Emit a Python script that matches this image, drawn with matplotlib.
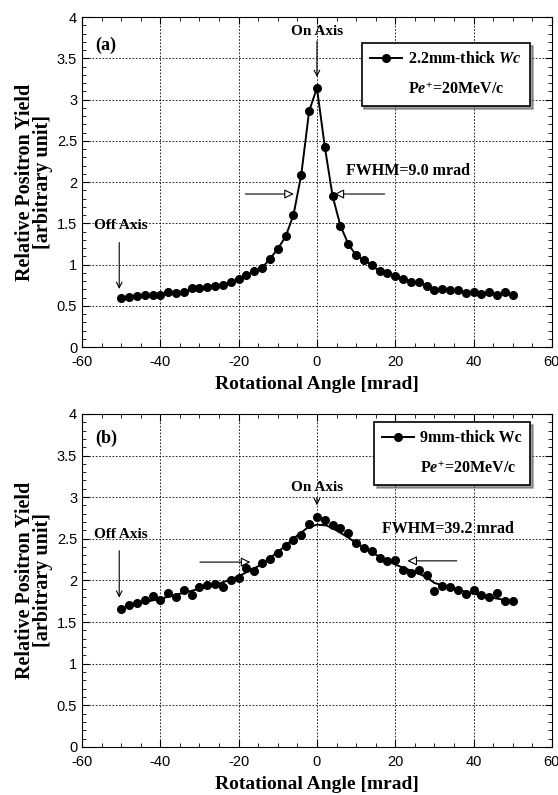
import matplotlib
matplotlib.use("Agg")
import matplotlib.pyplot as plt
from matplotlib.lines import Line2D
from matplotlib.ticker import MultipleLocator

# rotational angle (mrad), same for both panels
angle = [-50, -48, -46, -44, -42, -40, -38, -36, -34, -32, -30, -28, -26,
         -24, -22, -20, -18, -16, -14, -12, -10, -8, -6, -4, -2, 0, 2, 4,
         6, 8, 10, 12, 14, 16, 18, 20, 22, 24, 26, 28, 30, 32, 34, 36, 38,
         40, 42, 44, 46, 48, 50]

# (a) 2.2mm-thick Wc
yield_a = [0.60, 0.61, 0.62, 0.63, 0.63, 0.63, 0.67, 0.65, 0.665, 0.71,
           0.72, 0.73, 0.745, 0.75, 0.79, 0.82, 0.87, 0.92, 0.96, 1.07,
           1.19, 1.34, 1.60, 2.09, 2.86, 3.14, 2.43, 1.83, 1.47, 1.25,
           1.11, 1.06, 0.99, 0.92, 0.90, 0.855, 0.83, 0.79, 0.785, 0.74,
           0.69, 0.70, 0.69, 0.69, 0.65, 0.665, 0.64, 0.67, 0.63, 0.665,
           0.63]

# (b) 9mm-thick Wc
yield_b = [1.66, 1.71, 1.73, 1.77, 1.81, 1.77, 1.85, 1.80, 1.88, 1.83,
           1.92, 1.94, 1.96, 1.92, 2.00, 2.035, 2.15, 2.11, 2.21, 2.26,
           2.33, 2.41, 2.49, 2.54, 2.68, 2.76, 2.72, 2.66, 2.625, 2.57,
           2.45, 2.39, 2.35, 2.27, 2.23, 2.24, 2.13, 2.09, 2.12, 2.06,
           1.87, 1.93, 1.92, 1.89, 1.84, 1.88, 1.82, 1.80, 1.855, 1.75,
           1.75]

# smooth fit drawn through (b)
fit_angle_b = [-50, -45, -40, -35, -30, -25, -20, -15, -10, -7.5, -5, -2.5,
               0, 2.5, 5, 7.5, 10, 15, 20, 25, 28, 30, 35, 40, 45, 50]
fit_b = [1.67, 1.73, 1.78, 1.84, 1.90, 1.96, 2.05, 2.17, 2.34, 2.44, 2.54,
         2.63, 2.67, 2.66, 2.60, 2.53, 2.45, 2.31, 2.19, 2.10, 2.04, 1.97,
         1.90, 1.84, 1.79, 1.75]

x_ticks = [-60, -40, -20, 0, 20, 40, 60]
y_ticks = [0, 0.5, 1, 1.5, 2, 2.5, 3, 3.5, 4]
y_tick_labels = ['0', '0.5', '1', '1.5', '2', '2.5', '3', '3.5', '4']

plt.rcParams['axes.unicode_minus'] = False
plt.rcParams['mathtext.fontset'] = 'custom'
plt.rcParams['mathtext.rm'] = 'Liberation Serif:bold'
plt.rcParams['mathtext.it'] = 'Liberation Serif:italic:bold'
plt.rcParams['mathtext.bf'] = 'Liberation Serif:bold'

SERIF = 'Liberation Serif'


def style_axes(ax):
    ax.set_xlim(-60, 60)
    ax.set_ylim(0, 4)
    ax.set_xticks(x_ticks)
    ax.set_yticks(y_ticks)
    ax.set_yticklabels(y_tick_labels)
    ax.xaxis.set_minor_locator(MultipleLocator(5))
    ax.yaxis.set_minor_locator(MultipleLocator(0.1))
    ax.tick_params(which='both', direction='in', top=True, right=True)
    ax.tick_params(which='major', length=5, labelsize=10.5)
    ax.tick_params(axis='x', which='major', pad=6)
    ax.tick_params(which='minor', length=3)
    for lab in ax.get_xticklabels() + ax.get_yticklabels():
        lab.set_family('Liberation Sans')
    ax.grid(True, which='major', linestyle=(0, (2, 2)), color='black',
            linewidth=0.6)
    ax.set_axisbelow(True)
    ax.set_xlabel('Rotational Angle [mrad]', family=SERIF,
                  fontweight='bold', fontsize=14, labelpad=5)
    ax.set_ylabel('Relative Positron Yield\n[arbitrary unit]', family=SERIF,
                  fontweight='bold', fontsize=14.5, linespacing=0.85,
                  labelpad=3)


def legend_box(ax, label, y_anchor):
    h1 = Line2D([], [], color='black', marker='o', markersize=5.5, lw=1.4)
    h2 = Line2D([], [], color='none')
    leg = ax.legend([h1, h2], [label, r'P$e^{+}$=20MeV/c'],
                    loc='upper right', bbox_to_anchor=(0.953, y_anchor),
                    prop={'family': SERIF, 'weight': 'bold', 'size': 11.5},
                    frameon=True, fancybox=False, shadow=True,
                    handlelength=2.0, handletextpad=0.4, borderpad=0.5,
                    labelspacing=0.9, borderaxespad=0)
    leg.get_frame().set_edgecolor('black')
    leg.get_frame().set_linewidth(1.2)
    return leg


fig = plt.figure(figsize=(5.58, 7.95), dpi=100)
ax_a = fig.add_axes([0.147, 0.5635, 0.842, 0.415])
ax_b = fig.add_axes([0.147, 0.0604, 0.842, 0.419])

# ---- panel (a)
ax_a.plot(angle, yield_a, color='black', marker='o', markersize=5.5,
          lw=1.4, zorder=3)
style_axes(ax_a)
legend_box(ax_a, r'2.2mm-thick $Wc$', 0.92)
ax_a.text(-56.5, 3.66, '(a)', family=SERIF, fontweight='bold', fontsize=13,
          va='center')
ax_a.text(0, 3.83, 'On Axis', family=SERIF, fontweight='bold', fontsize=11,
          ha='center', va='center')
ax_a.annotate('', xy=(0, 3.24), xytext=(0, 3.74),
              arrowprops=dict(arrowstyle='->', color='black', lw=0.8))
ax_a.text(-50, 1.47, 'Off Axis', family=SERIF, fontweight='bold',
          fontsize=11, ha='center', va='center')
ax_a.annotate('', xy=(-50.5, 0.67), xytext=(-50.5, 1.30),
              arrowprops=dict(arrowstyle='->', color='black', lw=0.8))
ax_a.annotate('', xy=(-5.2, 1.855), xytext=(-19, 1.855),
              arrowprops=dict(arrowstyle='-|>', color='black', lw=0.8,
                              mutation_scale=14, fc='white'))
ax_a.annotate('', xy=(3.8, 1.855), xytext=(18, 1.855),
              arrowprops=dict(arrowstyle='-|>', color='black', lw=0.8,
                              mutation_scale=14, fc='white'))
ax_a.text(7.3, 2.14, 'FWHM=9.0 mrad', family=SERIF, fontweight='bold',
          fontsize=11.5, va='center')

# ---- panel (b)
ax_b.plot(angle, yield_b, color='black', marker='o', markersize=5.5,
          lw=0, zorder=3)
ax_b.plot(fit_angle_b, fit_b, color='black', lw=1.4, zorder=3)
style_axes(ax_b)
legend_box(ax_b, '9mm-thick Wc', 0.975)
ax_b.text(-56.5, 3.71, '(b)', family=SERIF, fontweight='bold', fontsize=13,
          va='center')
ax_b.text(0, 3.12, 'On Axis', family=SERIF, fontweight='bold', fontsize=11,
          ha='center', va='center')
ax_b.annotate('', xy=(0, 2.87), xytext=(0, 3.02),
              arrowprops=dict(arrowstyle='->', color='black', lw=0.8))
ax_b.text(-50, 2.55, 'Off Axis', family=SERIF, fontweight='bold',
          fontsize=11, ha='center', va='center')
ax_b.annotate('', xy=(-50.5, 1.76), xytext=(-50.5, 2.39),
              arrowprops=dict(arrowstyle='->', color='black', lw=0.8))
ax_b.annotate('', xy=(-16.3, 2.22), xytext=(-30.6, 2.22),
              arrowprops=dict(arrowstyle='-|>', color='black', lw=0.8,
                              mutation_scale=14, fc='white'))
ax_b.annotate('', xy=(22.4, 2.235), xytext=(36.4, 2.235),
              arrowprops=dict(arrowstyle='-|>', color='black', lw=0.8,
                              mutation_scale=14, fc='white'))
ax_b.text(16.5, 2.62, 'FWHM=39.2 mrad', family=SERIF, fontweight='bold',
          fontsize=11.5, va='center')

fig.savefig('out.png', dpi=100)
